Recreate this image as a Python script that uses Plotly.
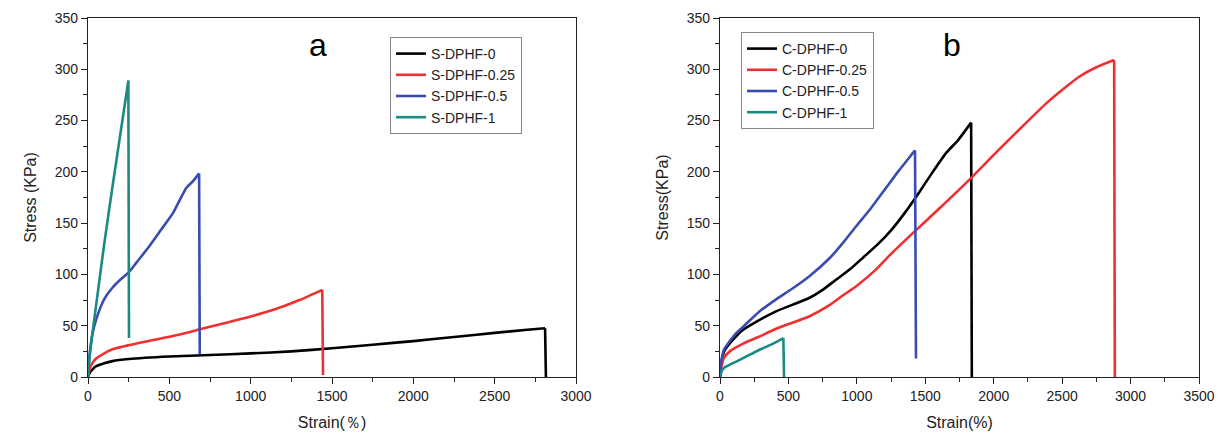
import plotly.graph_objects as go

# ---------------- data: panel a ----------------
s0_x = [0, 10, 25, 50, 100, 150, 250, 500, 750, 1000, 1250, 1500, 1750, 2000, 2250, 2500, 2700, 2810, 2815]
s0_y = [0, 4, 7, 10.5, 13.5, 15.5, 17.5, 20, 21.5, 23, 25, 28, 31.5, 35, 39, 43, 46, 47.5, 0]

s025_x = [0, 10, 25, 50, 100, 150, 250, 400, 550, 700, 850, 1000, 1150, 1300, 1440, 1445]
s025_y = [0, 8, 13, 18, 23, 27, 31, 36, 41, 47, 53, 59, 66, 75, 85, 2]

s05_x = [0, 10, 25, 50, 100, 150, 200, 250, 300, 360, 442, 523, 605, 646, 683, 687]
s05_y = [0, 22, 40, 56, 76, 87, 95, 102, 112, 124, 142, 160, 184.6, 191, 198.5, 22]

s1_x = [0, 10, 25, 50, 100, 150, 200, 248, 252]
s1_y = [0, 20, 40, 70, 130, 185, 238, 289, 38]

# ---------------- data: panel b ----------------
c0_x = [0, 10, 30, 72, 120, 169, 280, 410, 651, 750, 850, 950, 1050, 1150, 1250, 1350, 1450, 1550, 1650, 1740, 1835, 1840]
c0_y = [0, 14, 25, 33, 40, 46, 55, 64, 77, 85, 95, 105, 117, 129, 143, 160, 179, 199, 218, 231, 248, 0]

c025_x = [0, 10, 30, 72, 169, 280, 410, 651, 800, 892, 1000, 1133, 1250, 1407, 1600, 1819, 2025, 2200, 2386, 2520, 2627, 2750, 2880, 2885]
c025_y = [0, 10, 19, 25, 32.5, 39, 47, 59, 70, 79, 89, 104, 120, 140, 164, 192, 220, 243, 267, 282, 293, 302, 309, 0]

c05_x = [0, 10, 30, 72, 120, 169, 280, 410, 527, 651, 802, 900, 995, 1100, 1200, 1300, 1407, 1425, 1432]
c05_y = [0, 16, 27, 35, 43, 49, 63, 75.7, 86, 98, 116, 131, 147, 164, 182, 200, 218, 221, 18]

c1_x = [0, 10, 30, 72, 169, 289, 380, 463, 468]
c1_y = [0, 5, 9, 12, 18.4, 26.6, 32, 38, 0]

names_a = ["S-DPHF-0", "S-DPHF-0.25", "S-DPHF-0.5", "S-DPHF-1"]
names_b = ["C-DPHF-0", "C-DPHF-0.25", "C-DPHF-0.5", "C-DPHF-1"]
colors = ["#000000", "#f03030", "#3a4cb0", "#1a8a82"]

x_ticks_a = [0, 500, 1000, 1500, 2000, 2500, 3000]
x_ticks_b = [0, 500, 1000, 1500, 2000, 2500, 3000, 3500]
y_ticks = [0, 50, 100, 150, 200, 250, 300, 350]

FONT = "Liberation Sans, Arial, sans-serif"
TXT = "#222222"
LW = 2.6

fig = go.Figure()

series_a = [(s0_x, s0_y), (s025_x, s025_y), (s05_x, s05_y), (s1_x, s1_y)]
series_b = [(c0_x, c0_y), (c025_x, c025_y), (c05_x, c05_y), (c1_x, c1_y)]


def add_series(series, names, xa, ya, leg):
    for (xs, ys), nm, col in zip(series, names, colors):
        # smooth loading curve up to the break point
        fig.add_trace(go.Scatter(x=xs[:-1], y=ys[:-1], mode="lines", name=nm,
                                 line=dict(color=col, width=LW, shape="spline", smoothing=0.6),
                                 xaxis=xa, yaxis=ya, legend=leg))
        # sudden drop at failure
        fig.add_trace(go.Scatter(x=xs[-2:], y=ys[-2:], mode="lines", name=nm,
                                 line=dict(color=col, width=LW), showlegend=False,
                                 xaxis=xa, yaxis=ya, legend=leg))


add_series(series_a, names_a, "x", "y", "legend")
add_series(series_b, names_b, "x2", "y2", "legend2")

W, H = 1218, 435
axis_common = dict(
    showline=True, linecolor="#222222", linewidth=1.3, mirror=True,
    ticks="outside", ticklen=6, tickwidth=1.2, tickcolor="#222222",
    showgrid=False, zeroline=False,
    tickfont=dict(family=FONT, size=14, color=TXT),
    automargin=False, ticklabeloverflow="allow",
)
minor_x = dict(dtick=250, ticklen=4, tickcolor="#222222", ticks="outside")
minor_y = dict(dtick=25, ticklen=4, tickcolor="#222222", ticks="outside")
title_font = dict(family=FONT, size=16, color=TXT)

dom_y = [58 / H, 417 / H]

legend_common = dict(xanchor="left", yanchor="top",
                     bordercolor="#888888", borderwidth=1, bgcolor="white",
                     font=dict(family=FONT, size=14, color=TXT),
                     tracegroupgap=0, traceorder="normal")

fig.update_layout(
    width=W, height=H,
    margin=dict(l=0, r=0, t=0, b=0),
    paper_bgcolor="white", plot_bgcolor="white",
    font=dict(family=FONT, color=TXT),
    xaxis=dict(domain=[88 / W, 576 / W], range=[0, 3000], anchor="y",
               tickvals=x_ticks_a, minor=minor_x,
               title=dict(text="Strain(％)", font=title_font, standoff=13),
               **axis_common),
    yaxis=dict(domain=dom_y, range=[0, 350], anchor="x",
               tickvals=y_ticks, minor=minor_y,
               title=dict(text="Stress (KPa)", font=title_font, standoff=14),
               **axis_common),
    xaxis2=dict(domain=[720 / W, 1199 / W], range=[0, 3500], anchor="y2",
                tickvals=x_ticks_b, minor=minor_x,
                title=dict(text="Strain(%)", font=title_font, standoff=13),
                **axis_common),
    yaxis2=dict(domain=dom_y, range=[0, 350], anchor="x2",
                tickvals=y_ticks, minor=minor_y,
                title=dict(text="Stress(KPa)", font=title_font, standoff=14),
                **axis_common),
    legend=dict(x=390 / W, y=1 - 37 / H, **legend_common),
    legend2=dict(x=741 / W, y=1 - 32 / H, **legend_common),
    annotations=[
        dict(text="a", x=318 / W, y=1 - 45 / H, xref="paper", yref="paper",
             xanchor="center", yanchor="middle",
             showarrow=False, font=dict(family=FONT, size=32, color="#000000")),
        dict(text="b", x=952 / W, y=1 - 45 / H, xref="paper", yref="paper",
             xanchor="center", yanchor="middle",
             showarrow=False, font=dict(family=FONT, size=32, color="#000000")),
    ],
)

fig.write_html("out.html", config={"displayModeBar": False},
               post_script="document.body.style.margin='0';")
